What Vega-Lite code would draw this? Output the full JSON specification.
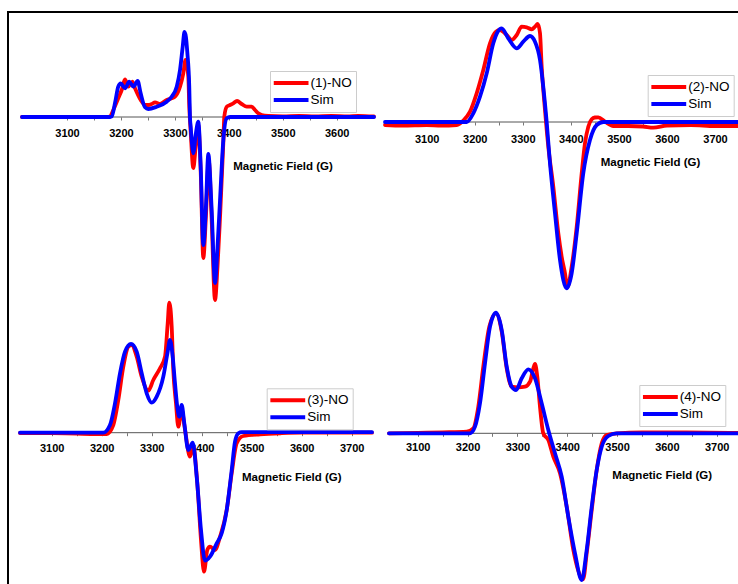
{
"$schema": "https://vega.github.io/schema/vega-lite/v6.json",
"width": 730, "height": 572,
"autosize": "none",
"padding": {"left": 8, "top": 12, "right": 0, "bottom": 0},
"background": "white",
"config": {"view": {"stroke": null}, "font": "Liberation Sans", "line": {"strokeCap": "round", "strokeJoin": "round"}},
"datasets": {
"p1": [
{"B":3016.6,"signal":0,"series":"(1)-NO"},{"B":3100,"signal":0,"series":"(1)-NO"},{"B":3173.6,"signal":0,"series":"(1)-NO"},{"B":3179.7,"signal":0.5,"series":"(1)-NO"},{"B":3185.8,"signal":7,"series":"(1)-NO"},{"B":3195,"signal":18.7,"series":"(1)-NO"},{"B":3201.4,"signal":27,"series":"(1)-NO"},{"B":3207.5,"signal":37.7,"series":"(1)-NO"},{"B":3213.7,"signal":30.3,"series":"(1)-NO"},{"B":3221.1,"signal":35.3,"series":"(1)-NO"},{"B":3226.1,"signal":28.7,"series":"(1)-NO"},{"B":3236.6,"signal":17,"series":"(1)-NO"},{"B":3244.6,"signal":12,"series":"(1)-NO"},{"B":3250.7,"signal":12,"series":"(1)-NO"},{"B":3257,"signal":13,"series":"(1)-NO"},{"B":3263.2,"signal":14.7,"series":"(1)-NO"},{"B":3272.4,"signal":13,"series":"(1)-NO"},{"B":3284.8,"signal":17,"series":"(1)-NO"},{"B":3294,"signal":18.7,"series":"(1)-NO"},{"B":3300.2,"signal":20.3,"series":"(1)-NO"},{"B":3309.5,"signal":30.3,"series":"(1)-NO"},{"B":3315.6,"signal":43.7,"series":"(1)-NO"},{"B":3319.7,"signal":57,"series":"(1)-NO"},{"B":3324.9,"signal":40.3,"series":"(1)-NO"},{"B":3326.7,"signal":10.3,"series":"(1)-NO"},{"B":3329.3,"signal":-15,"series":"(1)-NO"},{"B":3334.2,"signal":-51,"series":"(1)-NO"},{"B":3338.5,"signal":-30,"series":"(1)-NO"},{"B":3343.4,"signal":-8,"series":"(1)-NO"},{"B":3347.9,"signal":-55,"series":"(1)-NO"},{"B":3352.7,"signal":-141,"series":"(1)-NO"},{"B":3357.5,"signal":-100,"series":"(1)-NO"},{"B":3362.7,"signal":-43,"series":"(1)-NO"},{"B":3368,"signal":-100,"series":"(1)-NO"},{"B":3374.4,"signal":-183,"series":"(1)-NO"},{"B":3379,"signal":-150,"series":"(1)-NO"},{"B":3383.7,"signal":-100,"series":"(1)-NO"},{"B":3389.8,"signal":-26,"series":"(1)-NO"},{"B":3391.6,"signal":0.3,"series":"(1)-NO"},{"B":3396.1,"signal":10.3,"series":"(1)-NO"},{"B":3402.2,"signal":12,"series":"(1)-NO"},{"B":3408.3,"signal":13.7,"series":"(1)-NO"},{"B":3415.2,"signal":16,"series":"(1)-NO"},{"B":3423.9,"signal":13,"series":"(1)-NO"},{"B":3433.2,"signal":10.3,"series":"(1)-NO"},{"B":3442.4,"signal":10.3,"series":"(1)-NO"},{"B":3448.6,"signal":7,"series":"(1)-NO"},{"B":3454.7,"signal":3.7,"series":"(1)-NO"},{"B":3461,"signal":2,"series":"(1)-NO"},{"B":3473.2,"signal":1,"series":"(1)-NO"},{"B":3500,"signal":0.5,"series":"(1)-NO"},{"B":3530,"signal":1,"series":"(1)-NO"},{"B":3560,"signal":0.5,"series":"(1)-NO"},{"B":3590,"signal":1.2,"series":"(1)-NO"},{"B":3620,"signal":0.5,"series":"(1)-NO"},{"B":3640,"signal":1.2,"series":"(1)-NO"},{"B":3669,"signal":0.5,"series":"(1)-NO"},
{"B":3016.6,"signal":0,"series":"Sim"},{"B":3100,"signal":0,"series":"Sim"},{"B":3180,"signal":0,"series":"Sim"},{"B":3183,"signal":0.5,"series":"Sim"},{"B":3189,"signal":14,"series":"Sim"},{"B":3195,"signal":30.3,"series":"Sim"},{"B":3199.6,"signal":33.7,"series":"Sim"},{"B":3207.5,"signal":28.7,"series":"Sim"},{"B":3215.5,"signal":35.3,"series":"Sim"},{"B":3223,"signal":30.3,"series":"Sim"},{"B":3231,"signal":36,"series":"Sim"},{"B":3236.6,"signal":23.7,"series":"Sim"},{"B":3244.6,"signal":9.7,"series":"Sim"},{"B":3250.7,"signal":8,"series":"Sim"},{"B":3266.3,"signal":10.3,"series":"Sim"},{"B":3284.8,"signal":15.3,"series":"Sim"},{"B":3294,"signal":20.3,"series":"Sim"},{"B":3303.4,"signal":30.3,"series":"Sim"},{"B":3309.5,"signal":47,"series":"Sim"},{"B":3314.5,"signal":70.3,"series":"Sim"},{"B":3317.8,"signal":85,"series":"Sim"},{"B":3320.5,"signal":80,"series":"Sim"},{"B":3323,"signal":65,"series":"Sim"},{"B":3326.7,"signal":30,"series":"Sim"},{"B":3328,"signal":0,"series":"Sim"},{"B":3329.3,"signal":-9.7,"series":"Sim"},{"B":3334.2,"signal":-36.3,"series":"Sim"},{"B":3338.5,"signal":-18,"series":"Sim"},{"B":3343.4,"signal":-4.7,"series":"Sim"},{"B":3347.9,"signal":-49.7,"series":"Sim"},{"B":3352.7,"signal":-128,"series":"Sim"},{"B":3357.5,"signal":-90,"series":"Sim"},{"B":3362,"signal":-37,"series":"Sim"},{"B":3368,"signal":-90,"series":"Sim"},{"B":3374.4,"signal":-166,"series":"Sim"},{"B":3379,"signal":-130,"series":"Sim"},{"B":3383.7,"signal":-83,"series":"Sim"},{"B":3389.8,"signal":-23,"series":"Sim"},{"B":3396.1,"signal":-1.3,"series":"Sim"},{"B":3402.2,"signal":0,"series":"Sim"},{"B":3500,"signal":0,"series":"Sim"},{"B":3669.2,"signal":0,"series":"Sim"}
],
"p2": [
{"B":3013.2,"signal":-3,"series":"(2)-NO"},{"B":3050,"signal":-3.5,"series":"(2)-NO"},{"B":3100,"signal":-3,"series":"(2)-NO"},{"B":3130,"signal":-3.5,"series":"(2)-NO"},{"B":3162.4,"signal":-3,"series":"(2)-NO"},{"B":3176.2,"signal":1.3,"series":"(2)-NO"},{"B":3190.1,"signal":10.3,"series":"(2)-NO"},{"B":3204,"signal":28.7,"series":"(2)-NO"},{"B":3217.8,"signal":52,"series":"(2)-NO"},{"B":3231.7,"signal":78.7,"series":"(2)-NO"},{"B":3244.2,"signal":90.3,"series":"(2)-NO"},{"B":3252.5,"signal":92,"series":"(2)-NO"},{"B":3266.5,"signal":87,"series":"(2)-NO"},{"B":3276.9,"signal":82,"series":"(2)-NO"},{"B":3287.3,"signal":87,"series":"(2)-NO"},{"B":3297.7,"signal":95.3,"series":"(2)-NO"},{"B":3308.1,"signal":94.7,"series":"(2)-NO"},{"B":3318.5,"signal":92.7,"series":"(2)-NO"},{"B":3325.4,"signal":95.3,"series":"(2)-NO"},{"B":3331,"signal":98,"series":"(2)-NO"},{"B":3335.8,"signal":88.7,"series":"(2)-NO"},{"B":3339.3,"signal":55.3,"series":"(2)-NO"},{"B":3346.2,"signal":12,"series":"(2)-NO"},{"B":3353.1,"signal":-24.7,"series":"(2)-NO"},{"B":3363.5,"signal":-64.7,"series":"(2)-NO"},{"B":3373.9,"signal":-111.3,"series":"(2)-NO"},{"B":3380.9,"signal":-134.7,"series":"(2)-NO"},{"B":3387.8,"signal":-151.3,"series":"(2)-NO"},{"B":3392.6,"signal":-165.3,"series":"(2)-NO"},{"B":3401.7,"signal":-144.7,"series":"(2)-NO"},{"B":3412.2,"signal":-104.7,"series":"(2)-NO"},{"B":3422.6,"signal":-51.3,"series":"(2)-NO"},{"B":3429.4,"signal":-21.3,"series":"(2)-NO"},{"B":3436.3,"signal":-4.7,"series":"(2)-NO"},{"B":3443.4,"signal":2.7,"series":"(2)-NO"},{"B":3450,"signal":4.5,"series":"(2)-NO"},{"B":3457.1,"signal":4.7,"series":"(2)-NO"},{"B":3471,"signal":0.3,"series":"(2)-NO"},{"B":3488.3,"signal":-4,"series":"(2)-NO"},{"B":3520,"signal":-4,"series":"(2)-NO"},{"B":3550,"signal":-4.5,"series":"(2)-NO"},{"B":3571.6,"signal":-5.7,"series":"(2)-NO"},{"B":3600,"signal":-3.5,"series":"(2)-NO"},{"B":3650,"signal":-3,"series":"(2)-NO"},{"B":3700,"signal":-4,"series":"(2)-NO"},{"B":3747.8,"signal":-4,"series":"(2)-NO"},
{"B":3013.2,"signal":0,"series":"Sim"},{"B":3100,"signal":0,"series":"Sim"},{"B":3183.2,"signal":0,"series":"Sim"},{"B":3197,"signal":8.7,"series":"Sim"},{"B":3210.9,"signal":25.3,"series":"Sim"},{"B":3224.9,"signal":48.7,"series":"Sim"},{"B":3238.6,"signal":78.7,"series":"Sim"},{"B":3247.8,"signal":90.3,"series":"Sim"},{"B":3256.1,"signal":93.7,"series":"Sim"},{"B":3269.8,"signal":83.7,"series":"Sim"},{"B":3287.3,"signal":73.7,"series":"Sim"},{"B":3301,"signal":80.3,"series":"Sim"},{"B":3315,"signal":86,"series":"Sim"},{"B":3325.4,"signal":80.3,"series":"Sim"},{"B":3335.8,"signal":62,"series":"Sim"},{"B":3342.6,"signal":35.3,"series":"Sim"},{"B":3349.7,"signal":0,"series":"Sim"},{"B":3356.6,"signal":-41.3,"series":"Sim"},{"B":3367,"signal":-91.3,"series":"Sim"},{"B":3377.4,"signal":-138,"series":"Sim"},{"B":3391.3,"signal":-166.3,"series":"Sim"},{"B":3401.7,"signal":-151.3,"series":"Sim"},{"B":3412.2,"signal":-111.3,"series":"Sim"},{"B":3425.9,"signal":-51.3,"series":"Sim"},{"B":3439.8,"signal":-18,"series":"Sim"},{"B":3453.8,"signal":-3,"series":"Sim"},{"B":3467.5,"signal":0,"series":"Sim"},{"B":3600,"signal":0,"series":"Sim"},{"B":3747.8,"signal":0,"series":"Sim"}
],
"p3": [
{"B":3036.6,"signal":-0.3,"series":"(3)-NO"},{"B":3100,"signal":-0.5,"series":"(3)-NO"},{"B":3150,"signal":-1,"series":"(3)-NO"},{"B":3190,"signal":-1.3,"series":"(3)-NO"},{"B":3210,"signal":-1.3,"series":"(3)-NO"},{"B":3223.2,"signal":7.7,"series":"(3)-NO"},{"B":3233.2,"signal":32.7,"series":"(3)-NO"},{"B":3243.2,"signal":66,"series":"(3)-NO"},{"B":3253.2,"signal":86,"series":"(3)-NO"},{"B":3260,"signal":87.7,"series":"(3)-NO"},{"B":3270,"signal":76,"series":"(3)-NO"},{"B":3280,"signal":56,"series":"(3)-NO"},{"B":3293.2,"signal":42,"series":"(3)-NO"},{"B":3303.2,"signal":52.7,"series":"(3)-NO"},{"B":3316.6,"signal":64.4,"series":"(3)-NO"},{"B":3326.6,"signal":76,"series":"(3)-NO"},{"B":3332,"signal":109.4,"series":"(3)-NO"},{"B":3335.2,"signal":130,"series":"(3)-NO"},{"B":3340,"signal":106,"series":"(3)-NO"},{"B":3343.2,"signal":62.7,"series":"(3)-NO"},{"B":3348.6,"signal":29.4,"series":"(3)-NO"},{"B":3353.2,"signal":6,"series":"(3)-NO"},{"B":3360,"signal":22.7,"series":"(3)-NO"},{"B":3366,"signal":5,"series":"(3)-NO"},{"B":3376.6,"signal":-24,"series":"(3)-NO"},{"B":3383.2,"signal":-14,"series":"(3)-NO"},{"B":3391.2,"signal":-50.6,"series":"(3)-NO"},{"B":3398.6,"signal":-107.3,"series":"(3)-NO"},{"B":3404.6,"signal":-139,"series":"(3)-NO"},{"B":3411.2,"signal":-117.3,"series":"(3)-NO"},{"B":3416.6,"signal":-114,"series":"(3)-NO"},{"B":3426.6,"signal":-117.3,"series":"(3)-NO"},{"B":3436.6,"signal":-104,"series":"(3)-NO"},{"B":3450,"signal":-77.3,"series":"(3)-NO"},{"B":3460,"signal":-40.6,"series":"(3)-NO"},{"B":3470,"signal":-10.6,"series":"(3)-NO"},{"B":3483.2,"signal":-3.3,"series":"(3)-NO"},{"B":3516.6,"signal":-1.6,"series":"(3)-NO"},{"B":3560,"signal":-0.5,"series":"(3)-NO"},{"B":3600,"signal":0,"series":"(3)-NO"},{"B":3740.6,"signal":0,"series":"(3)-NO"},
{"B":3036.6,"signal":0,"series":"Sim"},{"B":3100,"signal":0,"series":"Sim"},{"B":3203.2,"signal":0,"series":"Sim"},{"B":3216.6,"signal":7.7,"series":"Sim"},{"B":3226.6,"signal":29.4,"series":"Sim"},{"B":3236.6,"signal":59.4,"series":"Sim"},{"B":3246.6,"signal":81,"series":"Sim"},{"B":3258.6,"signal":88.7,"series":"Sim"},{"B":3270,"signal":81,"series":"Sim"},{"B":3280,"signal":59.4,"series":"Sim"},{"B":3290,"signal":39.4,"series":"Sim"},{"B":3300,"signal":30,"series":"Sim"},{"B":3310,"signal":36,"series":"Sim"},{"B":3323.2,"signal":56,"series":"Sim"},{"B":3332,"signal":81,"series":"Sim"},{"B":3336.6,"signal":92.7,"series":"Sim"},{"B":3342,"signal":76,"series":"Sim"},{"B":3346.6,"signal":49.4,"series":"Sim"},{"B":3352,"signal":22.7,"series":"Sim"},{"B":3355.2,"signal":16,"series":"Sim"},{"B":3360,"signal":27.7,"series":"Sim"},{"B":3365.2,"signal":9.4,"series":"Sim"},{"B":3373.2,"signal":-17.3,"series":"Sim"},{"B":3382,"signal":-10,"series":"Sim"},{"B":3390,"signal":-44,"series":"Sim"},{"B":3398.6,"signal":-97.3,"series":"Sim"},{"B":3406.6,"signal":-128,"series":"Sim"},{"B":3416.6,"signal":-124,"series":"Sim"},{"B":3430,"signal":-110.6,"series":"Sim"},{"B":3440,"signal":-100.6,"series":"Sim"},{"B":3450,"signal":-77.3,"series":"Sim"},{"B":3460,"signal":-37.3,"series":"Sim"},{"B":3466.6,"signal":-9,"series":"Sim"},{"B":3473.2,"signal":-0.6,"series":"Sim"},{"B":3480,"signal":0.5,"series":"Sim"},{"B":3600,"signal":0.5,"series":"Sim"},{"B":3740.6,"signal":0.5,"series":"Sim"}
],
"p4": [
{"B":3042.4,"signal":0,"series":"(4)-NO"},{"B":3100,"signal":0.5,"series":"(4)-NO"},{"B":3150,"signal":1,"series":"(4)-NO"},{"B":3198.3,"signal":1.7,"series":"(4)-NO"},{"B":3211.6,"signal":5,"series":"(4)-NO"},{"B":3221.6,"signal":26.6,"series":"(4)-NO"},{"B":3231.6,"signal":66.6,"series":"(4)-NO"},{"B":3243.7,"signal":106.6,"series":"(4)-NO"},{"B":3257.1,"signal":120,"series":"(4)-NO"},{"B":3268.6,"signal":101.6,"series":"(4)-NO"},{"B":3278.6,"signal":65,"series":"(4)-NO"},{"B":3288.6,"signal":46.6,"series":"(4)-NO"},{"B":3301.9,"signal":46,"series":"(4)-NO"},{"B":3315.3,"signal":46.6,"series":"(4)-NO"},{"B":3325.4,"signal":51.6,"series":"(4)-NO"},{"B":3332,"signal":65,"series":"(4)-NO"},{"B":3335.4,"signal":69.3,"series":"(4)-NO"},{"B":3340,"signal":56.6,"series":"(4)-NO"},{"B":3345.4,"signal":26.6,"series":"(4)-NO"},{"B":3352,"signal":0,"series":"(4)-NO"},{"B":3362.1,"signal":-6.7,"series":"(4)-NO"},{"B":3372.1,"signal":-23.4,"series":"(4)-NO"},{"B":3385.6,"signal":-40,"series":"(4)-NO"},{"B":3399,"signal":-73.4,"series":"(4)-NO"},{"B":3412.3,"signal":-116.7,"series":"(4)-NO"},{"B":3427.1,"signal":-143.4,"series":"(4)-NO"},{"B":3432,"signal":-146,"series":"(4)-NO"},{"B":3439.1,"signal":-120,"series":"(4)-NO"},{"B":3449.2,"signal":-76.7,"series":"(4)-NO"},{"B":3459.2,"signal":-36.7,"series":"(4)-NO"},{"B":3469.3,"signal":-10,"series":"(4)-NO"},{"B":3479.3,"signal":-1.7,"series":"(4)-NO"},{"B":3499.4,"signal":0,"series":"(4)-NO"},{"B":3550,"signal":1,"series":"(4)-NO"},{"B":3640,"signal":1,"series":"(4)-NO"},{"B":3742.8,"signal":0.5,"series":"(4)-NO"},
{"B":3042.4,"signal":0,"series":"Sim"},{"B":3100,"signal":0,"series":"Sim"},{"B":3205,"signal":0,"series":"Sim"},{"B":3215,"signal":6.6,"series":"Sim"},{"B":3225,"signal":30,"series":"Sim"},{"B":3235.1,"signal":70,"series":"Sim"},{"B":3245.1,"signal":106.6,"series":"Sim"},{"B":3257.1,"signal":120.6,"series":"Sim"},{"B":3268.6,"signal":103.3,"series":"Sim"},{"B":3278.6,"signal":66.6,"series":"Sim"},{"B":3288.6,"signal":46.6,"series":"Sim"},{"B":3297.3,"signal":43.3,"series":"Sim"},{"B":3308.7,"signal":55,"series":"Sim"},{"B":3322,"signal":64,"series":"Sim"},{"B":3335.4,"signal":55,"series":"Sim"},{"B":3348.8,"signal":30,"series":"Sim"},{"B":3362.1,"signal":3.3,"series":"Sim"},{"B":3375.5,"signal":-20,"series":"Sim"},{"B":3389,"signal":-43.4,"series":"Sim"},{"B":3402.2,"signal":-83.4,"series":"Sim"},{"B":3415.7,"signal":-120,"series":"Sim"},{"B":3429.1,"signal":-146.7,"series":"Sim"},{"B":3439.1,"signal":-116.7,"series":"Sim"},{"B":3449.2,"signal":-73.4,"series":"Sim"},{"B":3459.2,"signal":-36.7,"series":"Sim"},{"B":3469.3,"signal":-13.4,"series":"Sim"},{"B":3482.5,"signal":-2.7,"series":"Sim"},{"B":3499.4,"signal":0,"series":"Sim"},{"B":3600,"signal":0,"series":"Sim"},{"B":3742.8,"signal":0,"series":"Sim"}
]
},
"resolve": {"scale": {"x": "independent", "y": "independent", "color": "independent"}, "axis": {"x": "independent", "y": "independent"}, "legend": {"color": "independent"}},
"layer": [
{
"data": {"name": "p1"},
"mark": {"type": "point", "opacity": 0},
"encoding": {
"x": {"datum": 0, "type": "quantitative", "scale": {"domain": [0, 1], "nice": false, "zero": false}, "axis": {"orient": "top", "domain": true, "domainColor": "#000000", "domainWidth": 2, "domainCap": "square", "translate": 0, "ticks": false, "labels": false, "grid": false, "title": null}},
"y": {"datum": 0, "type": "quantitative", "scale": {"domain": [0, 1], "nice": false, "zero": false}, "axis": {"orient": "left", "domain": true, "domainColor": "#000000", "domainWidth": 2, "domainCap": "square", "translate": 0, "ticks": false, "labels": false, "grid": false, "title": null}}
}
},
{"data": {"name": "p1"},
"transform": [{"aggregate": [{"op": "min", "field": "B", "as": "B0"}, {"op": "max", "field": "B", "as": "B1"}]}],
"mark": {"type": "rule", "color": "#555555", "strokeWidth": 1},
"encoding": {
"x": {"field": "B0", "type": "quantitative", "scale": {"domain": [3100, 3600], "range": [59, 328.7], "nice": false, "zero": false}, "axis": {"orient": "bottom", "offset": -467, "values": [3050,3100,3150,3200,3250,3300,3350,3400,3450,3500,3550,3600,3650], "format": "d", "labelExpr": "datum.value % 100 === 0 ? datum.label : ''", "domain": false, "grid": false, "ticks": true, "tickSize": 3, "tickColor": "#777777", "tickWidth": 1, "labelPadding": 7, "labelFont": "Liberation Sans", "labelFontSize": 11, "labelFontWeight": "bold", "labelColor": "#000000", "labelOverlap": false, "labelFlush": false, "labelBound": false, "title": "Magnetic Field (G)", "titleFont": "Liberation Sans", "titleFontSize": 11.5, "titleFontWeight": "bold", "titleColor": "#000000", "titleAlign": "center", "titleBaseline": "middle", "titleX": 274.5, "titleY": 49}},
"x2": {"field": "B1"},
"y": {"datum": 0, "type": "quantitative", "scale": {"domain": [0, 100], "range": [105, 5], "nice": false, "zero": false}, "axis": null}
}},
{"data": {"name": "p1"},
"transform": [{"filter": "datum.series !== 'Sim'"}],
"mark": {"type": "line", "strokeWidth": 3.8, "interpolate": "monotone"},
"encoding": {
"x": {"field": "B", "type": "quantitative", "scale": {"domain": [3100, 3600], "range": [59, 328.7], "nice": false, "zero": false}, "axis": null},
"y": {"field": "signal", "type": "quantitative", "scale": {"domain": [0, 100], "range": [105, 5], "nice": false, "zero": false}, "axis": null},
"color": {"field": "series", "type": "nominal", "scale": {"domain": ["(1)-NO", "Sim"], "range": ["#ff0000", "#0000ff"]}, "legend": {"orient": "none", "legendX": 262, "legendY": 59, "title": null, "symbolType": "stroke", "symbolSize": 1225, "symbolStrokeWidth": 4, "clipHeight": 17, "rowPadding": 0, "padding": 3.5, "symbolOffset": -2, "labelOffset": 0, "labelFont": "Liberation Sans", "labelFontSize": 13.5, "labelColor": "#000000", "labelLimit": 200, "strokeColor": "#cccccc", "fillColor": "#ffffff"}}
}},
{"data": {"name": "p1"},
"transform": [{"filter": "datum.series === 'Sim'"}],
"mark": {"type": "line", "strokeWidth": 3.8, "interpolate": "monotone"},
"encoding": {
"x": {"field": "B", "type": "quantitative", "scale": {"domain": [3100, 3600], "range": [59, 328.7], "nice": false, "zero": false}, "axis": null},
"y": {"field": "signal", "type": "quantitative", "scale": {"domain": [0, 100], "range": [105, 5], "nice": false, "zero": false}, "axis": null},
"color": {"field": "series", "type": "nominal", "scale": {"domain": ["(1)-NO", "Sim"], "range": ["#ff0000", "#0000ff"]}, "legend": null}
}},
{"data": {"name": "p2"},
"transform": [{"aggregate": [{"op": "min", "field": "B", "as": "B0"}, {"op": "max", "field": "B", "as": "B1"}]}],
"mark": {"type": "rule", "color": "#555555", "strokeWidth": 1},
"encoding": {
"x": {"field": "B0", "type": "quantitative", "scale": {"domain": [3100, 3700], "range": [418.7, 707], "nice": false, "zero": false}, "axis": {"orient": "bottom", "offset": -462, "values": [3050,3100,3150,3200,3250,3300,3350,3400,3450,3500,3550,3600,3650,3700], "format": "d", "labelExpr": "datum.value % 100 === 0 ? datum.label : ''", "domain": false, "grid": false, "ticks": true, "tickSize": 3, "tickColor": "#777777", "tickWidth": 1, "labelPadding": 8.3, "labelFont": "Liberation Sans", "labelFontSize": 11, "labelFontWeight": "bold", "labelColor": "#000000", "labelOverlap": false, "labelFlush": false, "labelBound": false, "title": "Magnetic Field (G)", "titleFont": "Liberation Sans", "titleFontSize": 11.5, "titleFontWeight": "bold", "titleColor": "#000000", "titleAlign": "center", "titleBaseline": "middle", "titleX": 642, "titleY": 40.7}},
"x2": {"field": "B1"},
"y": {"datum": 0, "type": "quantitative", "scale": {"domain": [0, 100], "range": [110, 10], "nice": false, "zero": false}, "axis": null}
}},
{"data": {"name": "p2"},
"transform": [{"filter": "datum.series !== 'Sim'"}],
"mark": {"type": "line", "strokeWidth": 3.8, "interpolate": "monotone"},
"encoding": {
"x": {"field": "B", "type": "quantitative", "scale": {"domain": [3100, 3700], "range": [418.7, 707], "nice": false, "zero": false}, "axis": null},
"y": {"field": "signal", "type": "quantitative", "scale": {"domain": [0, 100], "range": [110, 10], "nice": false, "zero": false}, "axis": null},
"color": {"field": "series", "type": "nominal", "scale": {"domain": ["(2)-NO", "Sim"], "range": ["#ff0000", "#0000ff"]}, "legend": {"orient": "none", "legendX": 639.7, "legendY": 63, "title": null, "symbolType": "stroke", "symbolSize": 1225, "symbolStrokeWidth": 4, "clipHeight": 17, "rowPadding": 0, "padding": 3.5, "symbolOffset": -2, "labelOffset": 0, "labelFont": "Liberation Sans", "labelFontSize": 13.5, "labelColor": "#000000", "labelLimit": 200, "strokeColor": "#cccccc", "fillColor": "#ffffff"}}
}},
{"data": {"name": "p2"},
"transform": [{"filter": "datum.series === 'Sim'"}],
"mark": {"type": "line", "strokeWidth": 3.8, "interpolate": "monotone"},
"encoding": {
"x": {"field": "B", "type": "quantitative", "scale": {"domain": [3100, 3700], "range": [418.7, 707], "nice": false, "zero": false}, "axis": null},
"y": {"field": "signal", "type": "quantitative", "scale": {"domain": [0, 100], "range": [110, 10], "nice": false, "zero": false}, "axis": null},
"color": {"field": "series", "type": "nominal", "scale": {"domain": ["(2)-NO", "Sim"], "range": ["#ff0000", "#0000ff"]}, "legend": null}
}},
{"data": {"name": "p3"},
"transform": [{"aggregate": [{"op": "min", "field": "B", "as": "B0"}, {"op": "max", "field": "B", "as": "B1"}]}],
"mark": {"type": "rule", "color": "#555555", "strokeWidth": 1},
"encoding": {
"x": {"field": "B0", "type": "quantitative", "scale": {"domain": [3100, 3700], "range": [43.7, 343.7], "nice": false, "zero": false}, "axis": {"orient": "bottom", "offset": -151.3, "values": [3050,3100,3150,3200,3250,3300,3350,3400,3450,3500,3550,3600,3650,3700], "format": "d", "labelExpr": "datum.value % 100 === 0 ? datum.label : ''", "domain": false, "grid": false, "ticks": true, "tickSize": 3, "tickColor": "#777777", "tickWidth": 1, "labelPadding": 6.6, "labelFont": "Liberation Sans", "labelFontSize": 11, "labelFontWeight": "bold", "labelColor": "#000000", "labelOverlap": false, "labelFlush": false, "labelBound": false, "title": "Magnetic Field (G)", "titleFont": "Liberation Sans", "titleFontSize": 11.5, "titleFontWeight": "bold", "titleColor": "#000000", "titleAlign": "center", "titleBaseline": "middle", "titleX": 283.3, "titleY": 45}},
"x2": {"field": "B1"},
"y": {"datum": 0, "type": "quantitative", "scale": {"domain": [0, 100], "range": [420.7, 320.7], "nice": false, "zero": false}, "axis": null}
}},
{"data": {"name": "p3"},
"transform": [{"filter": "datum.series !== 'Sim'"}],
"mark": {"type": "line", "strokeWidth": 3.8, "interpolate": "monotone"},
"encoding": {
"x": {"field": "B", "type": "quantitative", "scale": {"domain": [3100, 3700], "range": [43.7, 343.7], "nice": false, "zero": false}, "axis": null},
"y": {"field": "signal", "type": "quantitative", "scale": {"domain": [0, 100], "range": [420.7, 320.7], "nice": false, "zero": false}, "axis": null},
"color": {"field": "series", "type": "nominal", "scale": {"domain": ["(3)-NO", "Sim"], "range": ["#ff0000", "#0000ff"]}, "legend": {"orient": "none", "legendX": 258.7, "legendY": 376.3, "title": null, "symbolType": "stroke", "symbolSize": 1225, "symbolStrokeWidth": 4, "clipHeight": 17, "rowPadding": 0, "padding": 3.5, "symbolOffset": -2, "labelOffset": 0, "labelFont": "Liberation Sans", "labelFontSize": 13.5, "labelColor": "#000000", "labelLimit": 200, "strokeColor": "#cccccc", "fillColor": "#ffffff"}}
}},
{"data": {"name": "p3"},
"transform": [{"filter": "datum.series === 'Sim'"}],
"mark": {"type": "line", "strokeWidth": 3.8, "interpolate": "monotone"},
"encoding": {
"x": {"field": "B", "type": "quantitative", "scale": {"domain": [3100, 3700], "range": [43.7, 343.7], "nice": false, "zero": false}, "axis": null},
"y": {"field": "signal", "type": "quantitative", "scale": {"domain": [0, 100], "range": [420.7, 320.7], "nice": false, "zero": false}, "axis": null},
"color": {"field": "series", "type": "nominal", "scale": {"domain": ["(3)-NO", "Sim"], "range": ["#ff0000", "#0000ff"]}, "legend": null}
}},
{"data": {"name": "p4"},
"transform": [{"aggregate": [{"op": "min", "field": "B", "as": "B0"}, {"op": "max", "field": "B", "as": "B1"}]}],
"mark": {"type": "rule", "color": "#555555", "strokeWidth": 1},
"encoding": {
"x": {"field": "B0", "type": "quantitative", "scale": {"domain": [3100, 3700], "range": [409.7, 708.7], "nice": false, "zero": false}, "axis": {"orient": "bottom", "offset": -150.7, "values": [3050,3100,3150,3200,3250,3300,3350,3400,3450,3500,3550,3600,3650,3700], "format": "d", "labelExpr": "datum.value % 100 === 0 ? datum.label : ''", "domain": false, "grid": false, "ticks": true, "tickSize": 3, "tickColor": "#777777", "tickWidth": 1, "labelPadding": 5.4, "labelFont": "Liberation Sans", "labelFontSize": 11, "labelFontWeight": "bold", "labelColor": "#000000", "labelOverlap": false, "labelFlush": false, "labelBound": false, "title": "Magnetic Field (G)", "titleFont": "Liberation Sans", "titleFontSize": 11.5, "titleFontWeight": "bold", "titleColor": "#000000", "titleAlign": "center", "titleBaseline": "middle", "titleX": 653.7, "titleY": 41.7}},
"x2": {"field": "B1"},
"y": {"datum": 0, "type": "quantitative", "scale": {"domain": [0, 100], "range": [421.3, 321.3], "nice": false, "zero": false}, "axis": null}
}},
{"data": {"name": "p4"},
"transform": [{"filter": "datum.series !== 'Sim'"}],
"mark": {"type": "line", "strokeWidth": 3.8, "interpolate": "monotone"},
"encoding": {
"x": {"field": "B", "type": "quantitative", "scale": {"domain": [3100, 3700], "range": [409.7, 708.7], "nice": false, "zero": false}, "axis": null},
"y": {"field": "signal", "type": "quantitative", "scale": {"domain": [0, 100], "range": [421.3, 321.3], "nice": false, "zero": false}, "axis": null},
"color": {"field": "series", "type": "nominal", "scale": {"domain": ["(4)-NO", "Sim"], "range": ["#ff0000", "#0000ff"]}, "legend": {"orient": "none", "legendX": 631.3, "legendY": 373, "title": null, "symbolType": "stroke", "symbolSize": 1225, "symbolStrokeWidth": 4, "clipHeight": 17, "rowPadding": 0, "padding": 3.5, "symbolOffset": -2, "labelOffset": 0, "labelFont": "Liberation Sans", "labelFontSize": 13.5, "labelColor": "#000000", "labelLimit": 200, "strokeColor": "#cccccc", "fillColor": "#ffffff"}}
}},
{"data": {"name": "p4"},
"transform": [{"filter": "datum.series === 'Sim'"}],
"mark": {"type": "line", "strokeWidth": 3.8, "interpolate": "monotone"},
"encoding": {
"x": {"field": "B", "type": "quantitative", "scale": {"domain": [3100, 3700], "range": [409.7, 708.7], "nice": false, "zero": false}, "axis": null},
"y": {"field": "signal", "type": "quantitative", "scale": {"domain": [0, 100], "range": [421.3, 321.3], "nice": false, "zero": false}, "axis": null},
"color": {"field": "series", "type": "nominal", "scale": {"domain": ["(4)-NO", "Sim"], "range": ["#ff0000", "#0000ff"]}, "legend": null}
}}
]
}
